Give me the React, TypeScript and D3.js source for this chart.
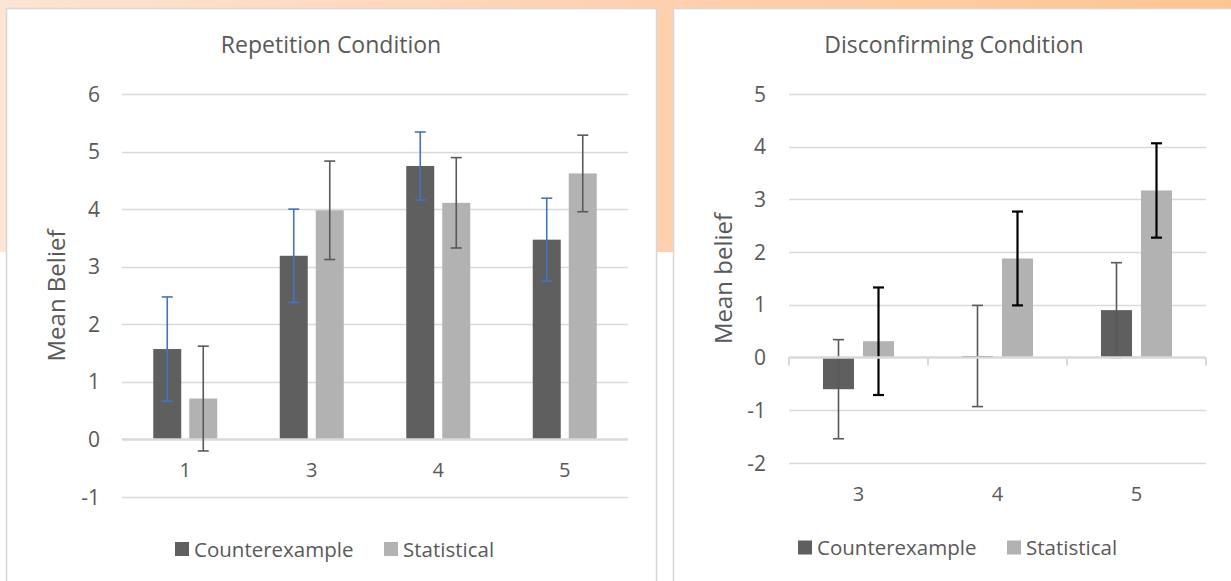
// Two Excel-style clustered bar charts with error bars, drawn with D3

import { useEffect, useRef } from 'react'
import * as d3 from 'd3'

// Repetition condition
const repCategories = ['1', '3', '4', '5']
const repCounter = [1.57, 3.19, 4.75, 3.47]
const repCounterErr = [0.905, 0.81, 0.59, 0.72]
const repStat = [0.71, 3.98, 4.11, 4.62]
const repStatErr = [0.91, 0.855, 0.785, 0.665]
const repTicks = [-1, 0, 1, 2, 3, 4, 5, 6]

// Disconfirming condition
const disCategories = ['3', '4', '5']
const disCounter = [-0.6, 0.03, 0.9]
const disCounterErr = [0.94, 0.96, 0.9]
const disStat = [0.31, 1.88, 3.17]
const disStatErr = [1.02, 0.89, 0.895]
const disTicks = [-2, -1, 0, 1, 2, 3, 4, 5]

const seriesNames = ['Counterexample', 'Statistical']
const barColors = ['#5f5f5f', '#b2b2b2']

const FONT = "'Open Sans', sans-serif"
const TEXT = '#595959'
const GRID = '#d9d9d9'

const W = 1231
const H = 581

type ChartConfig = {
  title: string
  yTitle: string
  categories: string[]
  counter: number[]
  counterErr: number[]
  stat: number[]
  statErr: number[]
  ticks: number[]
  center: number
  xRange: [number, number]
  yRange: [number, number]
  barWidth: number
  barGap: number
  errColors: [string, string]
  errWidths: [number, number]
  tickMarks: boolean
  axisOnTop: boolean
  tickLabelX: number
  yTitleX: number
  catY: number
  legendY: number
}

const drawChart = (svg: d3.Selection<SVGSVGElement, unknown, null, undefined>, c: ChartConfig) => {
  const g = svg.append('g').style('font-family', FONT).style('fill', TEXT)

  const x = d3.scaleBand().domain(c.categories).range(c.xRange)
  const y = d3
    .scaleLinear()
    .domain(d3.extent(c.ticks) as [number, number])
    .range(c.yRange)

  // Title
  g.append('text')
    .attr('x', c.center)
    .attr('y', 53)
    .attr('text-anchor', 'middle')
    .style('font-size', '23px')
    .text(c.title)

  // Gridlines
  g.selectAll(null)
    .data(c.ticks.filter(t => t !== 0))
    .join('line')
    .attr('x1', c.xRange[0])
    .attr('x2', c.xRange[1])
    .attr('y1', d => Math.round(y(d)) + 0.5)
    .attr('y2', d => Math.round(y(d)) + 0.5)
    .style('stroke', GRID)
    .style('stroke-width', 1.3)

  // Y tick labels (plain hyphen for negatives, as in Excel)
  g.selectAll(null)
    .data(c.ticks)
    .join('text')
    .attr('x', c.tickLabelX)
    .attr('y', d => y(d) + 7.5)
    .attr('text-anchor', 'end')
    .style('font-size', '21px')
    .text(d => String(d))

  // Bars
  const half = c.barGap / 2
  const series = [
    { values: c.counter, err: c.counterErr, offset: -(half + c.barWidth) },
    { values: c.stat, err: c.statErr, offset: half }
  ]
  series.forEach((s, i) => {
    g.selectAll(null)
      .data(c.categories)
      .join('rect')
      .attr('x', d => (x(d) as number) + x.bandwidth() / 2 + s.offset)
      .attr('y', (d, j) => Math.min(y(s.values[j]), y(0)))
      .attr('width', c.barWidth)
      .attr('height', (d, j) => Math.abs(y(s.values[j]) - y(0)))
      .style('fill', barColors[i])
  })

  const drawAxis = () => {
    g.append('line')
      .attr('x1', c.xRange[0])
      .attr('x2', c.xRange[1])
      .attr('y1', y(0))
      .attr('y2', y(0))
      .style('stroke', GRID)
      .style('stroke-width', 2.5)

    if (c.tickMarks) {
      const bounds = c.categories.map(d => x(d) as number).concat([c.xRange[1]])
      g.selectAll(null)
        .data(bounds)
        .join('line')
        .attr('x1', d => d)
        .attr('x2', d => d)
        .attr('y1', y(0))
        .attr('y2', y(0) + 8)
        .style('stroke', GRID)
        .style('stroke-width', 2)
    }
  }

  if (!c.axisOnTop) drawAxis()

  // Error bars
  const cap = 5.5
  series.forEach((s, i) => {
    const eg = g
      .selectAll(null)
      .data(c.categories)
      .join('g')
      .attr('transform', d => `translate(${(x(d) as number) + x.bandwidth() / 2 + s.offset + c.barWidth / 2},0)`)
      .style('stroke', c.errColors[i])
      .style('stroke-width', c.errWidths[i])
    eg.append('line')
      .attr('y1', (d, j) => y(s.values[j] + s.err[j]))
      .attr('y2', (d, j) => y(s.values[j] - s.err[j]))
    eg.append('line')
      .attr('x1', -cap)
      .attr('x2', cap)
      .attr('y1', (d, j) => y(s.values[j] + s.err[j]))
      .attr('y2', (d, j) => y(s.values[j] + s.err[j]))
    eg.append('line')
      .attr('x1', -cap)
      .attr('x2', cap)
      .attr('y1', (d, j) => y(s.values[j] - s.err[j]))
      .attr('y2', (d, j) => y(s.values[j] - s.err[j]))
  })

  if (c.axisOnTop) drawAxis()

  // Category labels
  g.selectAll(null)
    .data(c.categories)
    .join('text')
    .attr('x', d => (x(d) as number) + x.bandwidth() / 2)
    .attr('y', c.catY + 7)
    .attr('text-anchor', 'middle')
    .style('font-size', '20px')
    .text(d => d)

  // Y axis title
  g.append('text')
    .attr('transform', `translate(${c.yTitleX},${(c.yRange[0] + c.yRange[1]) / 2}) rotate(-90)`)
    .attr('text-anchor', 'middle')
    .style('font-size', '24px')
    .text(c.yTitle)

  // Legend
  const legendOffsets = [-156, 53]
  seriesNames.forEach((name, i) => {
    g.append('rect')
      .attr('x', c.center + legendOffsets[i])
      .attr('y', c.legendY - 7)
      .attr('width', 14)
      .attr('height', 14)
      .style('fill', barColors[i])
    g.append('text')
      .attr('x', c.center + legendOffsets[i] + 19)
      .attr('y', c.legendY + 7.5)
      .style('font-size', '20.5px')
      .text(name)
  })
}

const App = () => {
  const ref = useRef<SVGSVGElement>(null)

  useEffect(() => {
    const svg = d3.select(ref.current as SVGSVGElement)
    svg.selectAll('*').remove()

    // Peach page background behind the charts
    const grad = svg
      .append('defs')
      .append('linearGradient')
      .attr('id', 'peach')
      .attr('x1', '0%')
      .attr('x2', '100%')
    grad.append('stop').attr('offset', '0%').attr('stop-color', '#fde4d4')
    grad.append('stop').attr('offset', '50%').attr('stop-color', '#ffd1b0')
    grad.append('stop').attr('offset', '100%').attr('stop-color', '#ffc590')

    svg.append('rect').attr('width', W).attr('height', H).style('fill', 'white')
    svg.append('rect').attr('width', W).attr('height', 252).style('fill', 'url(#peach)')

    // Chart panels
    svg.append('rect')
      .attr('x', 6.5).attr('y', 8.5).attr('width', 650).attr('height', 620)
      .style('fill', 'white').style('stroke', '#d6d6d6').style('stroke-width', 1.5)
    svg.append('rect')
      .attr('x', 673.5).attr('y', 8.5).attr('width', 620).attr('height', 620)
      .style('fill', 'white').style('stroke', '#d6d6d6').style('stroke-width', 1.5)

    drawChart(svg, {
      title: 'Repetition Condition',
      yTitle: 'Mean Belief',
      categories: repCategories,
      counter: repCounter,
      counterErr: repCounterErr,
      stat: repStat,
      statErr: repStatErr,
      ticks: repTicks,
      center: 331,
      xRange: [122, 628],
      yRange: [497, 94],
      barWidth: 28,
      barGap: 8,
      errColors: ['#4472c4', '#595959'],
      errWidths: [1.6, 1.6],
      tickMarks: false,
      axisOnTop: false,
      tickLabelX: 100,
      yTitleX: 65,
      catY: 470,
      legendY: 549
    })

    drawChart(svg, {
      title: 'Disconfirming Condition',
      yTitle: 'Mean belief',
      categories: disCategories,
      counter: disCounter,
      counterErr: disCounterErr,
      stat: disStat,
      statErr: disStatErr,
      ticks: disTicks,
      center: 954,
      xRange: [789, 1206],
      yRange: [463, 94],
      barWidth: 31,
      barGap: 9,
      errColors: ['#595959', '#000000'],
      errWidths: [1.6, 2.2],
      tickMarks: true,
      axisOnTop: true,
      tickLabelX: 766,
      yTitleX: 732,
      catY: 493.5,
      legendY: 547.5
    })
  }, [])

  return (
    <svg
      ref={ref}
      width={W}
      height={H}
      style={{ position: 'absolute', left: 0, top: 0, display: 'block' }}
    />
  )
}

export default App
